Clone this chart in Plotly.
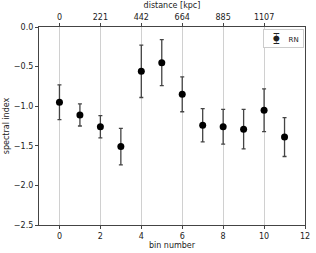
import plotly.graph_objects as go

bins = [0, 1, 2, 3, 4, 5, 6, 7, 8, 9, 10, 11]
spectral_index = [-0.95, -1.11, -1.26, -1.51, -0.56, -0.45, -0.85, -1.24, -1.26, -1.29, -1.05, -1.39]
errors = [0.22, 0.14, 0.14, 0.23, 0.33, 0.29, 0.22, 0.21, 0.22, 0.25, 0.27, 0.245]
top_tick_bins = [0, 2, 4, 6, 8, 10]
distance_labels = ["0", "221", "442", "664", "885", "1107"]
series_name = "RN"

font = dict(family="DejaVu Sans", size=8, color="#222")

fig = go.Figure()
fig.add_trace(go.Scatter(
    x=bins, y=spectral_index, mode="markers", name=series_name, showlegend=False,
    marker=dict(color="black", size=7),
    error_y=dict(type="data", array=errors, color="#444", thickness=1.3, width=2),
))
# invisible trace for the top axis
fig.add_trace(go.Scatter(x=[-1, 12], y=[None, None], xaxis="x2", showlegend=False, hoverinfo="skip"))

# compact matplotlib-style legend box
fig.add_annotation(
    xref="paper", yref="paper", x=0.995, y=0.99, xanchor="right", yanchor="top",
    text="&nbsp;&nbsp;&nbsp;<span style='font-size:11px'>⧳</span>&nbsp;&nbsp;&nbsp;&nbsp;" + series_name + "&nbsp;",
    showarrow=False,
    bgcolor="white", bordercolor="#cccccc", borderwidth=1, borderpad=2,
    font=dict(family="DejaVu Sans", size=7, color="#222"),
)

fig.update_layout(
    width=316, height=253,
    margin=dict(l=39, r=11, t=27, b=28, autoexpand=False),
    paper_bgcolor="white", plot_bgcolor="white",
    font=font,
    showlegend=False,
    xaxis=dict(range=[-1, 12], tickvals=[0, 2, 4, 6, 8, 10, 12], showgrid=False, automargin=False,
               zeroline=False, showline=True, linecolor="#444", linewidth=1.2, mirror=True,
               ticks="outside", ticklen=3, tickcolor="#444",
               title=dict(text="bin number", font=dict(size=8), standoff=2)),
    xaxis2=dict(range=[-1, 12], overlaying="x", side="top", tickvals=top_tick_bins, automargin=False,
                ticktext=distance_labels, showgrid=True, gridcolor="#d0d0d0", gridwidth=1,
                zeroline=False, showline=False, ticks="outside", ticklen=3, tickcolor="#444",
                title=dict(text="distance [kpc]", font=dict(size=8), standoff=2)),
    yaxis=dict(range=[-2.5, 0.0], tickvals=[0, -0.5, -1.0, -1.5, -2.0, -2.5], automargin=False,
               ticktext=["0.0", "−0.5", "−1.0", "−1.5", "−2.0", "−2.5"],
               showgrid=False, zeroline=False, showline=True, linecolor="#444", linewidth=1.2,
               mirror=True, ticks="outside", ticklen=3, tickcolor="#444",
               title=dict(text="spectral index", font=dict(size=8), standoff=3)),
)
fig.write_html("out.html", config={"displayModeBar": False},
               post_script="document.body.style.margin='0';")
